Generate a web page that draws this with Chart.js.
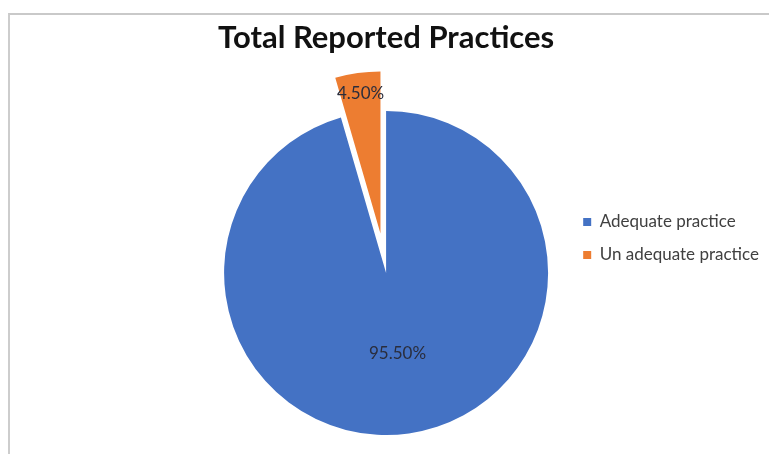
<!DOCTYPE html>
<html>
<head>
<meta charset="utf-8">
<script src="https://cdn.jsdelivr.net/npm/chart.js@4.4.1/dist/chart.umd.min.js"></script>
<style>
  html, body { margin: 0; padding: 0; background: #fff; }
  #wrap { position: relative; width: 769px; height: 454px; }
  #frame {
    position: absolute; left: 8px; top: 13px; right: 0; bottom: 0;
    border-top: 2px solid #c9c9c9; border-left: 2px solid #cdcdcd;
    pointer-events: none;
  }
</style>
</head>
<body>
<div id="wrap">
  <canvas id="myChart" width="769" height="454"></canvas>
  <div id="frame"></div>
</div>
<script>
// chart data
const categories = ['Adequate practice', 'Un adequate practice'];
const shares = [95.5, 4.5];
const shareLabels = ['95.50%', '4.50%'];
const sliceColors = ['#4472C4', '#ED7D31'];

// pulled-out slice and label placement (fraction of radius)
const explode = [0, 40];
const labelRadius = [0.5, 0.87];

const explodePlugin = {
    id: 'explode',
    beforeDatasetDraw(chart, args) {
        const ctx = chart.ctx;
        args.meta.data.forEach((arc, i) => {
            const mid = (arc.startAngle + arc.endAngle) / 2;
            ctx.save();
            ctx.translate(Math.cos(mid) * explode[i], Math.sin(mid) * explode[i]);
            arc.draw(ctx);
            ctx.restore();
        });
        return false;
    },
    afterDatasetsDraw(chart) {
        const ctx = chart.ctx;
        const meta = chart.getDatasetMeta(0);
        ctx.save();
        ctx.font = '17px Lato';
        ctx.fillStyle = '#2a2d3c';
        ctx.textAlign = 'center';
        ctx.textBaseline = 'middle';
        meta.data.forEach((arc, i) => {
            const p = arc.getProps(['x', 'y', 'startAngle', 'endAngle', 'outerRadius'], true);
            const mid = (p.startAngle + p.endAngle) / 2;
            const d = explode[i] + p.outerRadius * labelRadius[i];
            ctx.fillText(shareLabels[i], p.x + Math.cos(mid) * d, p.y + Math.sin(mid) * d);
        });
        ctx.restore();
    }
};

const ctx = document.getElementById('myChart').getContext('2d');
new Chart(ctx, {
    type: 'pie',
    data: {
        labels: categories,
        datasets: [{
            data: shares,
            backgroundColor: sliceColors,
            borderWidth: 0,
            radius: 162
        }]
    },
    options: {
        responsive: false,
        animation: false,
        layout: { padding: { left: 205, right: 0, top: 0, bottom: 0 } },
        plugins: {
            title: {
                display: true,
                text: 'Total Reported Practices',
                fullSize: false,
                color: '#111',
                font: { family: 'Lato', size: 31, weight: 'bold' },
                padding: { top: 19, bottom: 35.8 }
            },
            legend: {
                position: 'right',
                align: 'start',
                fullSize: false,
                title: { display: true, text: '', font: { size: 12 }, padding: { top: 91.1, bottom: 0 } },
                labels: {
                    boxWidth: 8,
                    boxHeight: 8,
                    padding: 16,
                    color: '#404040',
                    font: { family: 'Lato', size: 17 }
                }
            },
            tooltip: { enabled: false }
        }
    },
    plugins: [explodePlugin]
});
</script>
</body>
</html>
